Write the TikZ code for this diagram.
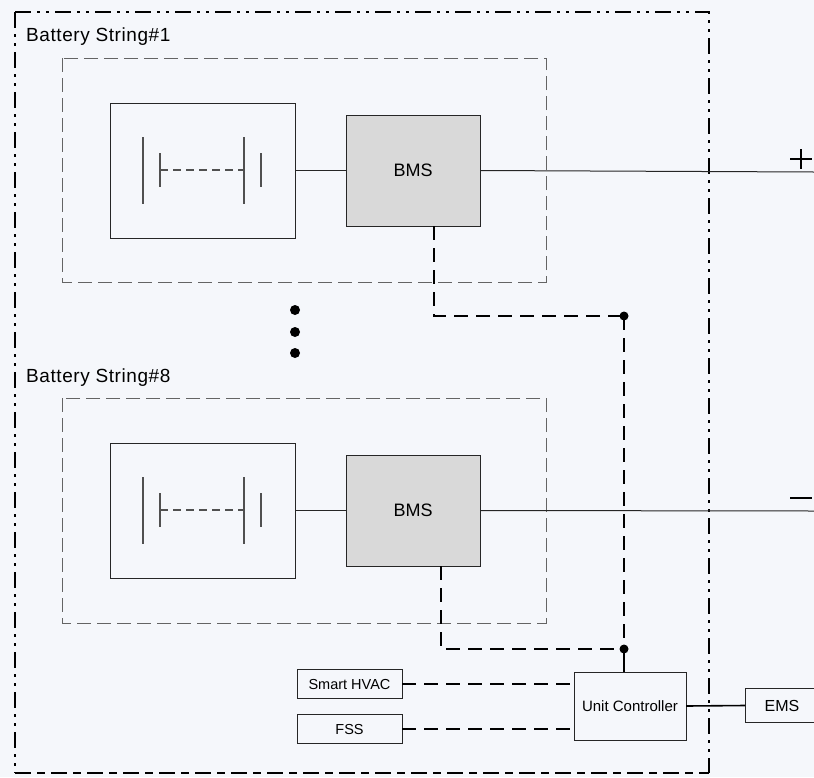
\documentclass[tikz,border=0pt]{standalone}
\usepackage{fontspec}
\setmainfont{Liberation Sans}
\newfontfamily\lblfont[LetterSpace=3]{Liberation Sans}
\definecolor{bgc}{RGB}{245,247,251}
\definecolor{bmsfill}{RGB}{217,217,217}
\definecolor{dgray}{RGB}{100,100,100}
\begin{document}
\begin{tikzpicture}[x=1pt,y=-1pt,
  box/.style={draw=black!85, line width=0.9pt, inner sep=0pt, outer sep=0pt},
  bmsbox/.style={box, fill=bmsfill, minimum width=134pt, minimum height=111pt, font=\fontsize{18}{20}\selectfont},
  cellbox/.style={box, minimum width=185pt, minimum height=135pt},
  smallbox/.style={box, minimum width=105pt, minimum height=29pt, font=\fontsize{14.5}{16}\selectfont},
  groupbox/.style={draw=dgray, line width=1pt, dash pattern=on 14pt off 6pt},
  plate/.style={draw=dgray!80!black, line width=1.2pt},
  wire/.style={draw=black!85, line width=1pt},
  sigwire/.style={draw=black, line width=1.8pt, dash pattern=on 14pt off 8pt},
  junction/.style={circle, fill=black, inner sep=0pt, minimum size=9pt},
  lbl/.style={anchor=west, inner sep=0pt, font=\lblfont\fontsize{19}{22}\selectfont}
]
\fill[bgc] (0,0) rectangle (814,777);
\useasboundingbox (0,0) rectangle (814,777);

% outer unit boundary
\draw[line width=1.4pt, dash pattern=on 16pt off 6pt on 3pt off 6pt on 3pt off 6pt] (15,12) -- (709,12) -- (709,773);
\draw[line width=1.4pt, dash pattern=on 16pt off 6pt on 3pt off 6pt on 3pt off 6pt] (15,12) -- (15,773);
\draw[line width=2.2pt, dash pattern=on 16pt off 6pt on 8pt off 6pt] (15,773) -- (709,773);

% ---------- String 1 ----------
\node[lbl] (lab1) at (26,37) {Battery String\#1};
\draw[groupbox] (62,58) rectangle (546,282);
\node[cellbox] (cell1) at (202.5,170.5) {};
\node[bmsbox] (bms1) at (413,170.5) {BMS};
\draw[plate] (143,137) -- (143,204);
\draw[plate] (160,153) -- (160,187);
\draw[plate] (244,137) -- (244,204);
\draw[plate] (261,153) -- (261,187);
\draw[plate, line width=1.3pt, dash pattern=on 8pt off 5pt] (160,170) -- (243,170);
\draw[wire] (cell1.east) -- (bms1.west);
\coordinate (pos) at (814,172);
\draw[wire] (bms1.east) -- (pos);
\draw[line width=1.1pt] (790,159) -- (812,159) (801,149) -- (801,169);

% ---------- dots ----------
\node[junction, minimum size=10pt] (d1) at (295,310) {};
\node[junction, minimum size=10pt] (d2) at (295,332) {};
\node[junction, minimum size=10pt] (d3) at (295,353) {};

% ---------- String 8 ----------
\node[lbl] (lab8) at (26,378) {Battery String\#8};
\draw[groupbox] (62,398) rectangle (546,623);
\node[cellbox] (cell8) at (202.5,510.5) {};
\node[bmsbox] (bms8) at (413,510.5) {BMS};
\draw[plate] (143,477) -- (143,544);
\draw[plate] (160,493) -- (160,527);
\draw[plate] (244,477) -- (244,544);
\draw[plate] (261,493) -- (261,527);
\draw[plate, line width=1.3pt, dash pattern=on 8pt off 5pt] (160,510) -- (243,510);
\draw[wire] (cell8.east) -- (bms8.west);
\coordinate (neg) at (814,511);
\draw[wire] (bms8.east) -- (neg);
\draw[line width=1.2pt] (790,498) -- (812,498);

% ---------- controller ----------
\node[smallbox] (hvac) at (349.5,684) {Smart HVAC};
\node[smallbox] (fss) at (349.5,729) {FSS};
\node[box, minimum width=112pt, minimum height=68pt, font=\fontsize{15}{17}\selectfont] (uc) at (630,706) {Unit Controller};
\node[box, minimum width=80pt, minimum height=34pt, text width=60pt, align=center] (ems) at (785,705.5) {};
\node[inner sep=0pt, font=\fontsize{16}{18}\selectfont] (emstext) at (782,705.5) {EMS};

\node[junction] (j1) at (624,316) {};
\node[junction] (j8) at (624,649) {};

\draw[sigwire] (434,226) -- (434,316) -- (j1.center);
\draw[sigwire] (441,566) -- (441,649) -- (j8.center);
\draw[sigwire] (j1.center) -- (j8.center);
\draw[line width=1.6pt] (j8.center) -- (j8.center |- uc.north);
\draw[sigwire] (hvac.east) -- (hvac.east -| uc.west);
\draw[sigwire] (fss.east) -- (fss.east -| uc.west);
\draw[line width=1.6pt] (uc.east) -- (ems.west);
\end{tikzpicture}
\end{document}
